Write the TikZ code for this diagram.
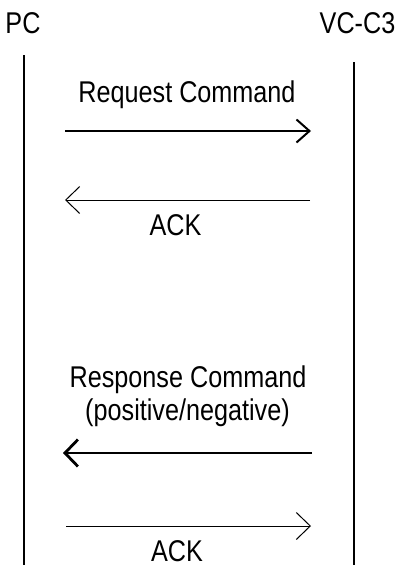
\documentclass[tikz,border=0pt]{standalone}
\usepackage{fontspec}
\setmainfont{Liberation Sans}[FakeStretch=0.84]
\usetikzlibrary{arrows.meta}
\begin{document}
\begin{tikzpicture}[x=1pt,y=-1pt,
  lbl/.style={anchor=base,inner sep=0pt,font=\fontsize{30}{33}\selectfont},
  lifeline/.style={line width=2.6pt},
  msgthin/.style={line width=1pt,-{Straight Barb[length=14pt,width=27pt]}},
  msgmid/.style={line width=2pt,-{Straight Barb[length=13pt,width=23pt]}},
  msgthick/.style={line width=2.8pt,-{Straight Barb[length=13pt,width=27pt]}}]
  \useasboundingbox (0,0) rectangle (398,565);

  % participants
  \node[lbl] (pc) at (23,33) {PC};
  \node[lbl] (vc) at (357.5,33) {VC-C3};

  % lifelines
  \coordinate (pctop) at (24,55);
  \coordinate (pcbot) at (24,565);
  \coordinate (vctop) at (354,62);
  \coordinate (vcbot) at (354,565);
  \draw[lifeline] (pctop) -- (pcbot);
  \draw[lifeline] (vctop) -- (vcbot);

  % message end points
  \coordinate (m1a) at (65,131);  \coordinate (m1b) at (311,131);
  \coordinate (m2a) at (310,200); \coordinate (m2b) at (65,200);
  \coordinate (m3a) at (312,453); \coordinate (m3b) at (63,453);
  \coordinate (m4a) at (66,526);  \coordinate (m4b) at (311,526);

  % messages
  \node[lbl] (req) at (187,102) {Request Command};
  \draw[msgmid] (m1a) -- (m1b);

  \draw[msgthin] (m2a) -- (m2b);
  \node[lbl] (ack1) at (175.5,235) {ACK};

  \node[lbl] (resp) at (188,387) {Response Command};
  \node[lbl] (posneg) at (187.5,420) {(positive/negative)};
  \draw[msgthick] (m3a) -- (m3b);

  \draw[msgthin] (m4a) -- (m4b);
  \node[lbl] (ack2) at (177,561) {ACK};
\end{tikzpicture}
\end{document}
